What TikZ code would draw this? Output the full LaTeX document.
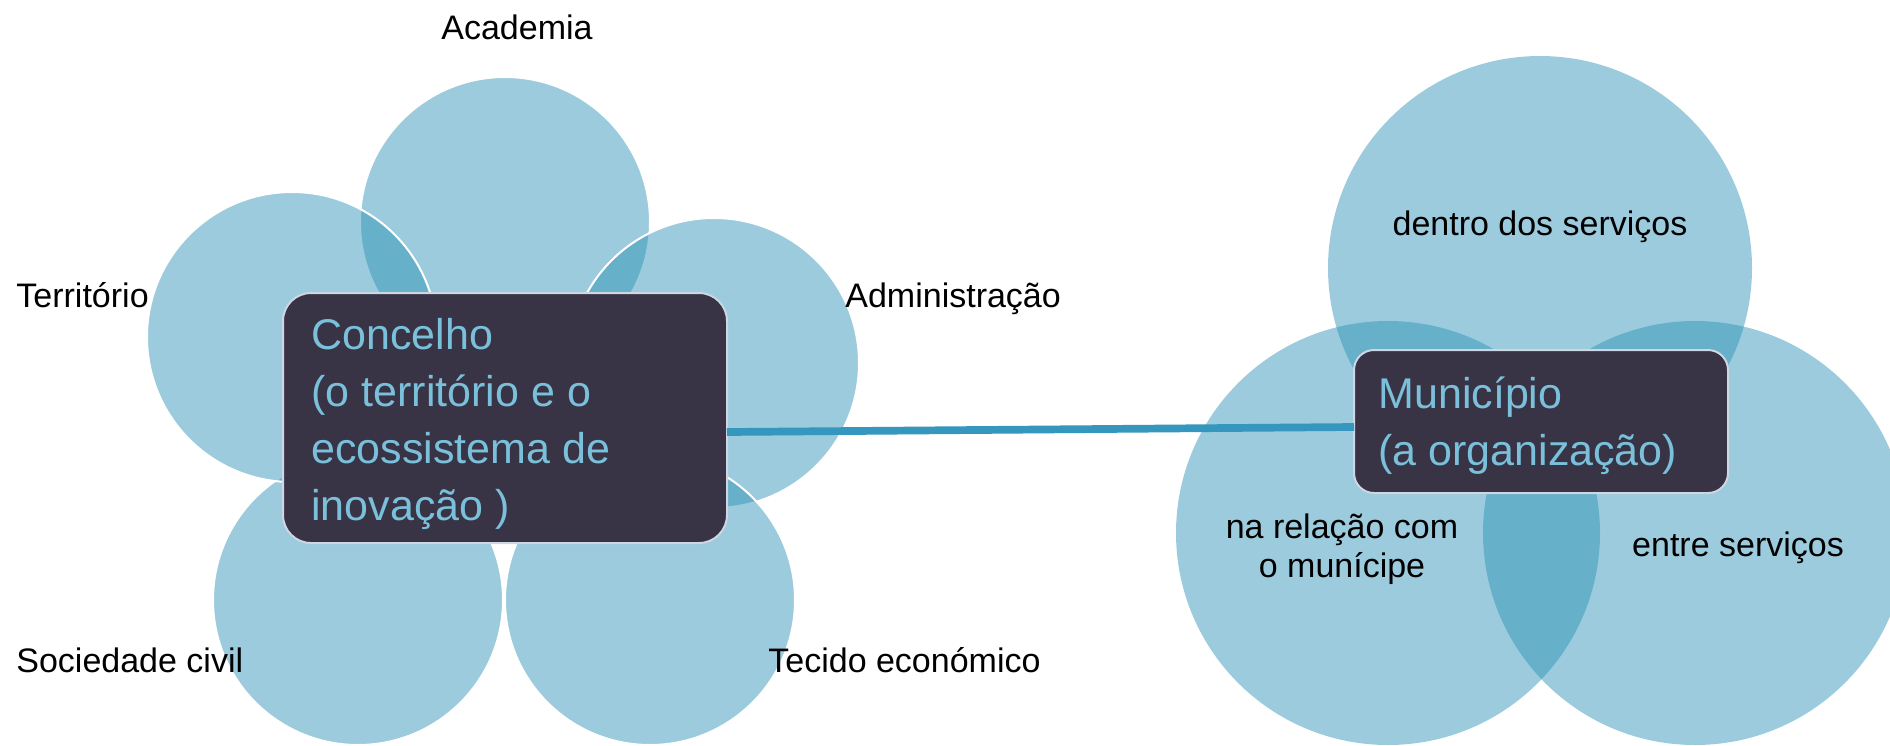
\documentclass[tikz,border=0pt]{standalone}
\usepackage{fontspec}
\setmainfont{Liberation Sans}
\definecolor{circ}{RGB}{47,147,183}
\definecolor{boxfill}{RGB}{56,52,70}
\definecolor{boxedge}{RGB}{205,214,226}
\definecolor{boxtext}{RGB}{122,192,218}
\definecolor{connc}{RGB}{53,151,190}
\begin{document}
\begin{tikzpicture}[x=0.5pt,y=-0.5pt,
  petal/.style={circle, fill=circ, fill opacity=0.48, draw=white, draw opacity=1, line width=1pt, minimum size=145pt, inner sep=0pt, outer sep=0pt},
  venn/.style={circle, fill=circ, fill opacity=0.48, draw=none, minimum size=212pt, inner sep=0pt, outer sep=0pt},
  lbl/.style={font=\fontsize{17}{19.5}\selectfont, text=black, inner sep=0pt},
  boxtxt/.style={font=\fontsize{21.5}{28.5}\selectfont, text=boxtext, inner sep=0pt, align=left},
  cbox/.style={rectangle, fill=boxfill, draw=boxedge, line width=1pt, inner sep=0pt, outer sep=0pt},
  conn/.style={draw=connc, line width=3.85pt}]
\useasboundingbox (0,0) rectangle (1890,745);
\clip (0,0) rectangle (1890,745);
% flower circles
\node[petal] (academia-c) at (505,222) {};
\node[petal] (admin-c) at (714,363) {};
\node[petal] (tecido-c) at (650,600) {};
\node[petal] (sociedade-c) at (358,600) {};
\node[petal] (territorio-c) at (292,337) {};
% venn circles
\node[venn] (dentro-c) at (1540,268) {};
\node[venn] (relacao-c) at (1388,533) {};
\node[venn] (entre-c) at (1695,533) {};
% boxes
\node[cbox, rounded corners=14pt, minimum width=222pt, minimum height=125pt] (concelho) at (505,418) {};
\node[cbox, rounded corners=10pt, minimum width=187pt, minimum height=71.5pt] (municipio) at (1541,421.5) {};
% connector
\draw[conn] ([yshift=-7pt]concelho.east) -- ([yshift=-2.75pt]municipio.west);
% box texts (base anchor = last line)
\node[boxtxt, anchor=base west] (concelho-t) at (311,520) {Concelho\\(o território e o\\ecossistema de\\inovação )};
\node[boxtxt, anchor=base west] (municipio-t) at (1378,465) {Município\\(a organização)};
% labels
\node[lbl, anchor=base] (academia) at (517,39) {Academia};
\node[lbl, anchor=base west] (territorio) at (16,307) {Território};
\node[lbl, anchor=base west] (admin) at (845,307) {Administração};
\node[lbl, anchor=base west] (sociedade) at (16,672) {Sociedade civil};
\node[lbl, anchor=base west] (tecido) at (768,672) {Tecido económico};
\node[lbl, anchor=base] (dentro) at (1540,235) {dentro dos serviços};
\node[lbl, anchor=base, align=center] (relacao) at (1342,577) {na relação com\\o munícipe};
\node[lbl, anchor=base] (entre) at (1738,556) {entre serviços};
\end{tikzpicture}
\end{document}
